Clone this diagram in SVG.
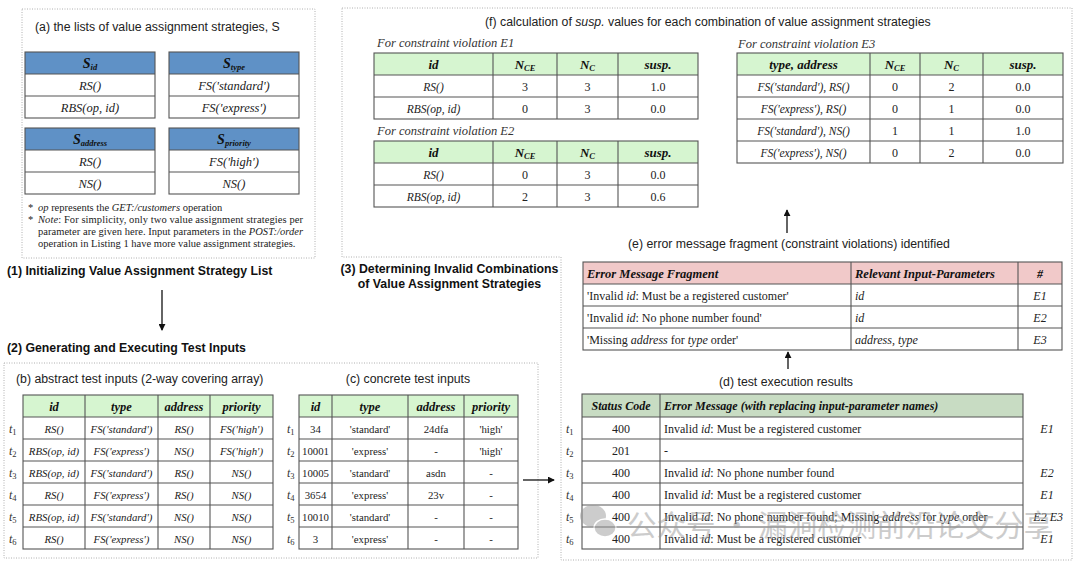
<svg xmlns="http://www.w3.org/2000/svg" width="1080" height="566" viewBox="0 0 1080 566">
<defs>
<style>
.bg{fill:#ffffff}
.dot{fill:none;stroke:#b0b0b0;stroke-width:1;stroke-dasharray:1 1.5}
.grid{fill:none;stroke:#555;stroke-width:1.1}
.title{font-family:"Liberation Sans",Arial,sans-serif;font-size:12.3px;fill:#222}
.head{font-family:"Liberation Sans",Arial,sans-serif;font-size:12.3px;font-weight:bold;fill:#111}
.th{font-family:"Liberation Serif","Times New Roman",serif;font-size:13px;font-weight:bold;font-style:italic;fill:#111;text-anchor:middle}
.thl{font-family:"Liberation Serif","Times New Roman",serif;font-size:12.5px;font-weight:bold;font-style:italic;fill:#111}
.sub{font-size:8.5px}
.ci{font-family:"Liberation Serif","Times New Roman",serif;font-size:11.5px;font-style:italic;fill:#222;text-anchor:middle}
.cn{font-family:"Liberation Serif","Times New Roman",serif;font-size:12px;fill:#222;text-anchor:middle}
.cs{font-family:"Liberation Serif","Times New Roman",serif;font-size:10.8px;fill:#222;text-anchor:middle}
.csi{font-family:"Liberation Serif","Times New Roman",serif;font-size:10.8px;font-style:italic;fill:#222;text-anchor:middle}
.ca{font-family:"Liberation Serif","Times New Roman",serif;font-size:12.5px;font-style:italic;fill:#222;text-anchor:middle}
.txt{font-family:"Liberation Serif","Times New Roman",serif;font-size:12px;fill:#222}
.lbl{font-family:"Liberation Serif","Times New Roman",serif;font-size:12.5px;font-style:italic;fill:#333}
.note{font-family:"Liberation Serif","Times New Roman",serif;font-size:10.5px;fill:#222}
.tl{font-family:"Liberation Serif","Times New Roman",serif;font-size:12px;font-style:italic;fill:#333}
.tls{font-size:8.5px;font-style:normal}
.it{font-style:italic}
.hblue{fill:#5f91c6}
.hgreen{fill:#d6f5d0}
.hpink{fill:#f1c9c9}
.hsage{fill:#c8dcc3}
.conn{stroke:#111;stroke-width:1.3;fill:none}
.wm{font-family:"Noto Sans CJK SC","Noto Sans",sans-serif;font-size:29.5px;fill:#9a9a9a}
</style>
<marker id="ah" viewBox="0 0 8 8" refX="7" refY="4" markerWidth="7" markerHeight="7" markerUnits="userSpaceOnUse" orient="auto">
<path d="M0,0 L8,4 L0,8 z" fill="#111"/>
</marker>
</defs>
<rect class="bg" x="0" y="0" width="1080" height="566"/>

<!-- panels -->
<g id="panels">
<rect class="dot" x="22" y="9" width="293" height="249"/>
<path class="dot" d="M342,8 H1072 V560 H561 V257 H342 Z"/>
<rect class="dot" x="4" y="363" width="534" height="195"/>
</g>

<!-- headings -->
<g id="headings">
<text class="head" x="7" y="275">(1) Initializing Value Assignment Strategy List</text>
<text class="head" x="7" y="352">(2) Generating and Executing Test Inputs</text>
<text class="head" x="449.5" y="273" text-anchor="middle">(3) Determining Invalid Combinations</text>
<text class="head" x="449.5" y="288" text-anchor="middle">of Value Assignment Strategies</text>
</g>

<!-- (a) -->
<g id="panel-a">
<text class="title" x="35" y="31">(a) the lists of value assignment strategies, S</text>
<g id="s-id">
<rect class="hblue" x="25" y="52" width="130" height="22"/>
<rect class="grid" x="25" y="52" width="130" height="66"/>
<line class="grid" x1="25" y1="74" x2="155" y2="74"/>
<line class="grid" x1="25" y1="96" x2="155" y2="96"/>
<text class="th" x="90" y="67.5" style="font-size:14px">S<tspan class="sub" dy="2">id</tspan></text>
<text class="ca" x="90" y="89.5">RS()</text>
<text class="ca" x="90" y="111.5">RBS(op, id)</text>
</g>
<g id="s-type">
<rect class="hblue" x="169" y="52" width="130" height="22"/>
<rect class="grid" x="169" y="52" width="130" height="66"/>
<line class="grid" x1="169" y1="74" x2="299" y2="74"/>
<line class="grid" x1="169" y1="96" x2="299" y2="96"/>
<text class="th" x="234" y="67.5" style="font-size:14px">S<tspan class="sub" dy="2">type</tspan></text>
<text class="ca" x="234" y="89.5">FS('standard')</text>
<text class="ca" x="234" y="111.5">FS('express')</text>
</g>
<g id="s-address">
<rect class="hblue" x="25" y="128" width="130" height="22"/>
<rect class="grid" x="25" y="128" width="130" height="66"/>
<line class="grid" x1="25" y1="150" x2="155" y2="150"/>
<line class="grid" x1="25" y1="172" x2="155" y2="172"/>
<text class="th" x="90" y="143.5" style="font-size:14px">S<tspan class="sub" dy="2">address</tspan></text>
<text class="ca" x="90" y="165.5">RS()</text>
<text class="ca" x="90" y="187.5">NS()</text>
</g>
<g id="s-priority">
<rect class="hblue" x="169" y="128" width="130" height="22"/>
<rect class="grid" x="169" y="128" width="130" height="66"/>
<line class="grid" x1="169" y1="150" x2="299" y2="150"/>
<line class="grid" x1="169" y1="172" x2="299" y2="172"/>
<text class="th" x="234" y="143.5" style="font-size:14px">S<tspan class="sub" dy="2">priority</tspan></text>
<text class="ca" x="234" y="165.5">FS('high')</text>
<text class="ca" x="234" y="187.5">NS()</text>
</g>
<g id="notes">
<text class="note" x="28" y="211">*</text>
<text class="note" x="38" y="211"><tspan class="it">op</tspan> represents the <tspan class="it">GET:/customers</tspan> operation</text>
<text class="note" x="28" y="223">*</text>
<text class="note" x="38" y="223" textLength="265" lengthAdjust="spacing"><tspan class="it">Note</tspan>: For simplicity, only two value assignment strategies per</text>
<text class="note" x="38" y="235" textLength="265" lengthAdjust="spacing">parameter are given here. Input parameters in the <tspan class="it">POST:/order</tspan></text>
<text class="note" x="38" y="247">operation in Listing 1 have more value assignment strategies.</text>
</g>
</g>

<!-- (f) -->
<g id="panel-f">
<text class="title" x="485" y="26">(f) calculation of <tspan class="it">susp.</tspan> values for each combination of value assignment strategies</text>
<g id="f-e1">
<text class="lbl" x="377" y="47">For constraint violation E1</text>
<rect class="hgreen" x="374" y="53" width="324" height="22"/>
<rect class="grid" x="374" y="53" width="324" height="66"/>
<line class="grid" x1="374" y1="75" x2="698" y2="75"/>
<line class="grid" x1="374" y1="97" x2="698" y2="97"/>
<line class="grid" x1="493" y1="53" x2="493" y2="119"/>
<line class="grid" x1="557" y1="53" x2="557" y2="119"/>
<line class="grid" x1="618" y1="53" x2="618" y2="119"/>
<text class="th" x="433.5" y="68.5">id</text>
<text class="th" x="525" y="68.5">N<tspan class="sub" dy="2">CE</tspan></text>
<text class="th" x="587.5" y="68.5">N<tspan class="sub" dy="2">C</tspan></text>
<text class="th" x="658" y="68.5">susp.</text>
<text class="ci" x="433.5" y="90.5">RS()</text>
<text class="cn" x="525" y="90.5">3</text>
<text class="cn" x="587.5" y="90.5">3</text>
<text class="cn" x="658" y="90.5">1.0</text>
<text class="ci" x="433.5" y="112.5">RBS(op, id)</text>
<text class="cn" x="525" y="112.5">0</text>
<text class="cn" x="587.5" y="112.5">3</text>
<text class="cn" x="658" y="112.5">0.0</text>
</g>
<g id="f-e2">
<text class="lbl" x="377" y="135">For constraint violation E2</text>
<rect class="hgreen" x="374" y="141" width="324" height="22"/>
<rect class="grid" x="374" y="141" width="324" height="66"/>
<line class="grid" x1="374" y1="163" x2="698" y2="163"/>
<line class="grid" x1="374" y1="185" x2="698" y2="185"/>
<line class="grid" x1="493" y1="141" x2="493" y2="207"/>
<line class="grid" x1="557" y1="141" x2="557" y2="207"/>
<line class="grid" x1="618" y1="141" x2="618" y2="207"/>
<text class="th" x="433.5" y="156.5">id</text>
<text class="th" x="525" y="156.5">N<tspan class="sub" dy="2">CE</tspan></text>
<text class="th" x="587.5" y="156.5">N<tspan class="sub" dy="2">C</tspan></text>
<text class="th" x="658" y="156.5">susp.</text>
<text class="ci" x="433.5" y="178.5">RS()</text>
<text class="cn" x="525" y="178.5">0</text>
<text class="cn" x="587.5" y="178.5">3</text>
<text class="cn" x="658" y="178.5">0.0</text>
<text class="ci" x="433.5" y="200.5">RBS(op, id)</text>
<text class="cn" x="525" y="200.5">2</text>
<text class="cn" x="587.5" y="200.5">3</text>
<text class="cn" x="658" y="200.5">0.6</text>
</g>
<g id="f-e3">
<text class="lbl" x="738" y="48">For constraint violation E3</text>
<rect class="hgreen" x="737" y="53" width="326" height="22"/>
<rect class="grid" x="737" y="53" width="326" height="110"/>
<line class="grid" x1="737" y1="75" x2="1063" y2="75"/>
<line class="grid" x1="737" y1="97" x2="1063" y2="97"/>
<line class="grid" x1="737" y1="119" x2="1063" y2="119"/>
<line class="grid" x1="737" y1="141" x2="1063" y2="141"/>
<line class="grid" x1="870" y1="53" x2="870" y2="163"/>
<line class="grid" x1="920" y1="53" x2="920" y2="163"/>
<line class="grid" x1="983" y1="53" x2="983" y2="163"/>
<text class="th" x="803.5" y="68.5">type, address</text>
<text class="th" x="895" y="68.5">N<tspan class="sub" dy="2">CE</tspan></text>
<text class="th" x="951.5" y="68.5">N<tspan class="sub" dy="2">C</tspan></text>
<text class="th" x="1023" y="68.5">susp.</text>
<text class="ci" x="803.5" y="90.5">FS('standard'), RS()</text>
<text class="cn" x="895" y="90.5">0</text>
<text class="cn" x="951.5" y="90.5">2</text>
<text class="cn" x="1023" y="90.5">0.0</text>
<text class="ci" x="803.5" y="112.5">FS('express'), RS()</text>
<text class="cn" x="895" y="112.5">0</text>
<text class="cn" x="951.5" y="112.5">1</text>
<text class="cn" x="1023" y="112.5">0.0</text>
<text class="ci" x="803.5" y="134.5">FS('standard'), NS()</text>
<text class="cn" x="895" y="134.5">1</text>
<text class="cn" x="951.5" y="134.5">1</text>
<text class="cn" x="1023" y="134.5">1.0</text>
<text class="ci" x="803.5" y="156.5">FS('express'), NS()</text>
<text class="cn" x="895" y="156.5">0</text>
<text class="cn" x="951.5" y="156.5">2</text>
<text class="cn" x="1023" y="156.5">0.0</text>
</g>
</g>

<!-- (e) -->
<g id="panel-e">
<text class="title" x="628" y="248">(e) error message fragment (constraint violations) identified</text>
<rect class="hpink" x="583" y="262" width="479" height="22"/>
<rect class="grid" x="583" y="262" width="479" height="88"/>
<line class="grid" x1="583" y1="284" x2="1062" y2="284"/>
<line class="grid" x1="583" y1="306" x2="1062" y2="306"/>
<line class="grid" x1="583" y1="328" x2="1062" y2="328"/>
<line class="grid" x1="851" y1="262" x2="851" y2="350"/>
<line class="grid" x1="1018" y1="262" x2="1018" y2="350"/>
<text class="thl" x="587" y="277.5">Error Message Fragment</text>
<text class="thl" x="855" y="277.5">Relevant Input-Parameters</text>
<text class="th" x="1040" y="277.5" style="font-size:12px">#</text>
<text class="txt" x="587" y="299.5">'Invalid <tspan class="it">id</tspan>: Must be a registered customer'</text>
<text class="txt" x="855" y="299.5"><tspan class="it">id</tspan></text>
<text class="ca" x="1040" y="299.5" style="font-size:12px">E1</text>
<text class="txt" x="587" y="321.5">'Invalid <tspan class="it">id</tspan>: No phone number found'</text>
<text class="txt" x="855" y="321.5"><tspan class="it">id</tspan></text>
<text class="ca" x="1040" y="321.5" style="font-size:12px">E2</text>
<text class="txt" x="587" y="343.5">'Missing <tspan class="it">address</tspan> for <tspan class="it">type</tspan> order'</text>
<text class="txt" x="855" y="343.5"><tspan class="it">address, type</tspan></text>
<text class="ca" x="1040" y="343.5" style="font-size:12px">E3</text>
</g>

<!-- (d) -->
<g id="panel-d">
<text class="title" x="786" y="386" text-anchor="middle">(d) test execution results</text>
<rect class="hsage" x="582" y="394" width="441" height="23"/>
<rect class="grid" x="582" y="394" width="441" height="155"/>
<line class="grid" x1="582" y1="417" x2="1023" y2="417"/>
<line class="grid" x1="582" y1="439" x2="1023" y2="439"/>
<line class="grid" x1="582" y1="461" x2="1023" y2="461"/>
<line class="grid" x1="582" y1="483" x2="1023" y2="483"/>
<line class="grid" x1="582" y1="505" x2="1023" y2="505"/>
<line class="grid" x1="582" y1="527" x2="1023" y2="527"/>
<line class="grid" x1="660" y1="394" x2="660" y2="549"/>
<text class="th" x="621" y="410" style="font-size:12px">Status Code</text>
<text class="thl" x="664" y="410" style="font-size:12px">Error Message (with replacing input-parameter names)</text>
<text class="tl" x="566" y="432.5">t<tspan class="tls" dy="2.5">1</tspan></text>
<text class="tl" x="566" y="454.5">t<tspan class="tls" dy="2.5">2</tspan></text>
<text class="tl" x="566" y="476.5">t<tspan class="tls" dy="2.5">3</tspan></text>
<text class="tl" x="566" y="498.5">t<tspan class="tls" dy="2.5">4</tspan></text>
<text class="tl" x="566" y="520.5">t<tspan class="tls" dy="2.5">5</tspan></text>
<text class="tl" x="566" y="542.5">t<tspan class="tls" dy="2.5">6</tspan></text>
<text class="cn" x="621" y="432.5">400</text>
<text class="cn" x="621" y="454.5">201</text>
<text class="cn" x="621" y="476.5">400</text>
<text class="cn" x="621" y="498.5">400</text>
<text class="cn" x="621" y="520.5">400</text>
<text class="cn" x="621" y="542.5">400</text>
<text class="txt" x="664" y="432.5">Invalid <tspan class="it">id</tspan>: Must be a registered customer</text>
<text class="txt" x="664" y="454.5">-</text>
<text class="txt" x="664" y="476.5">Invalid <tspan class="it">id</tspan>: No phone number found</text>
<text class="txt" x="664" y="498.5">Invalid <tspan class="it">id</tspan>: Must be a registered customer</text>
<text class="txt" x="664" y="520.5">Invalid <tspan class="it">id</tspan>: No phone number found; Missing <tspan class="it">address</tspan> for <tspan class="it">type</tspan> order</text>
<text class="txt" x="664" y="542.5">Invalid <tspan class="it">id</tspan>: Must be a registered customer</text>
<text class="ca" x="1047" y="432.5" style="font-size:12px">E1</text>
<text class="ca" x="1047" y="476.5" style="font-size:12px">E2</text>
<text class="ca" x="1047" y="498.5" style="font-size:12px">E1</text>
<text class="ca" x="1063" y="520.5" style="font-size:12px;text-anchor:end">E2 E3</text>
<text class="ca" x="1047" y="542.5" style="font-size:12px">E1</text>
</g>

<!-- (b) -->
<g id="panel-b">
<text class="title" x="16" y="383">(b) abstract test inputs (2-way covering array)</text>
<rect class="hgreen" x="23" y="395" width="250" height="22"/>
<rect class="grid" x="23" y="395" width="250" height="154"/>
<line class="grid" x1="23" y1="417" x2="273" y2="417"/>
<line class="grid" x1="23" y1="439" x2="273" y2="439"/>
<line class="grid" x1="23" y1="461" x2="273" y2="461"/>
<line class="grid" x1="23" y1="483" x2="273" y2="483"/>
<line class="grid" x1="23" y1="505" x2="273" y2="505"/>
<line class="grid" x1="23" y1="527" x2="273" y2="527"/>
<line class="grid" x1="85" y1="395" x2="85" y2="549"/>
<line class="grid" x1="158" y1="395" x2="158" y2="549"/>
<line class="grid" x1="210" y1="395" x2="210" y2="549"/>
<text class="th" x="54" y="410.5" style="font-size:12.5px">id</text>
<text class="th" x="121.5" y="410.5" style="font-size:12.5px">type</text>
<text class="th" x="184" y="410.5" style="font-size:12.5px">address</text>
<text class="th" x="241.5" y="410.5" style="font-size:12.5px">priority</text>
<text class="tl" x="9" y="432.5">t<tspan class="tls" dy="2.5">1</tspan></text>
<text class="tl" x="9" y="454.5">t<tspan class="tls" dy="2.5">2</tspan></text>
<text class="tl" x="9" y="476.5">t<tspan class="tls" dy="2.5">3</tspan></text>
<text class="tl" x="9" y="498.5">t<tspan class="tls" dy="2.5">4</tspan></text>
<text class="tl" x="9" y="520.5">t<tspan class="tls" dy="2.5">5</tspan></text>
<text class="tl" x="9" y="542.5">t<tspan class="tls" dy="2.5">6</tspan></text>
<text class="csi" x="54" y="432.5">RS()</text>
<text class="csi" x="121.5" y="432.5">FS('standard')</text>
<text class="csi" x="184" y="432.5">RS()</text>
<text class="csi" x="241.5" y="432.5">FS('high')</text>
<text class="csi" x="54" y="454.5">RBS(op, id)</text>
<text class="csi" x="121.5" y="454.5">FS('express')</text>
<text class="csi" x="184" y="454.5">NS()</text>
<text class="csi" x="241.5" y="454.5">FS('high')</text>
<text class="csi" x="54" y="476.5">RBS(op, id)</text>
<text class="csi" x="121.5" y="476.5">FS('standard')</text>
<text class="csi" x="184" y="476.5">RS()</text>
<text class="csi" x="241.5" y="476.5">NS()</text>
<text class="csi" x="54" y="498.5">RS()</text>
<text class="csi" x="121.5" y="498.5">FS('express')</text>
<text class="csi" x="184" y="498.5">RS()</text>
<text class="csi" x="241.5" y="498.5">NS()</text>
<text class="csi" x="54" y="520.5">RBS(op, id)</text>
<text class="csi" x="121.5" y="520.5">FS('standard')</text>
<text class="csi" x="184" y="520.5">NS()</text>
<text class="csi" x="241.5" y="520.5">NS()</text>
<text class="csi" x="54" y="542.5">RS()</text>
<text class="csi" x="121.5" y="542.5">FS('express')</text>
<text class="csi" x="184" y="542.5">NS()</text>
<text class="csi" x="241.5" y="542.5">NS()</text>
</g>

<!-- (c) -->
<g id="panel-c">
<text class="title" x="408" y="383" text-anchor="middle">(c) concrete test inputs</text>
<rect class="hgreen" x="299" y="395" width="219" height="22"/>
<rect class="grid" x="299" y="395" width="219" height="154"/>
<line class="grid" x1="299" y1="417" x2="518" y2="417"/>
<line class="grid" x1="299" y1="439" x2="518" y2="439"/>
<line class="grid" x1="299" y1="461" x2="518" y2="461"/>
<line class="grid" x1="299" y1="483" x2="518" y2="483"/>
<line class="grid" x1="299" y1="505" x2="518" y2="505"/>
<line class="grid" x1="299" y1="527" x2="518" y2="527"/>
<line class="grid" x1="332" y1="395" x2="332" y2="549"/>
<line class="grid" x1="408" y1="395" x2="408" y2="549"/>
<line class="grid" x1="464" y1="395" x2="464" y2="549"/>
<text class="th" x="315.5" y="410.5" style="font-size:12.5px">id</text>
<text class="th" x="370" y="410.5" style="font-size:12.5px">type</text>
<text class="th" x="436" y="410.5" style="font-size:12.5px">address</text>
<text class="th" x="491" y="410.5" style="font-size:12.5px">priority</text>
<text class="tl" x="287" y="432.5">t<tspan class="tls" dy="2.5">1</tspan></text>
<text class="tl" x="287" y="454.5">t<tspan class="tls" dy="2.5">2</tspan></text>
<text class="tl" x="287" y="476.5">t<tspan class="tls" dy="2.5">3</tspan></text>
<text class="tl" x="287" y="498.5">t<tspan class="tls" dy="2.5">4</tspan></text>
<text class="tl" x="287" y="520.5">t<tspan class="tls" dy="2.5">5</tspan></text>
<text class="tl" x="287" y="542.5">t<tspan class="tls" dy="2.5">6</tspan></text>
<text class="cs" x="315.5" y="432.5">34</text>
<text class="cs" x="370" y="432.5">'standard'</text>
<text class="cs" x="436" y="432.5">24dfa</text>
<text class="cs" x="491" y="432.5">'high'</text>
<text class="cs" x="315.5" y="454.5">10001</text>
<text class="cs" x="370" y="454.5">'express'</text>
<text class="cs" x="436" y="454.5">-</text>
<text class="cs" x="491" y="454.5">'high'</text>
<text class="cs" x="315.5" y="476.5">10005</text>
<text class="cs" x="370" y="476.5">'standard'</text>
<text class="cs" x="436" y="476.5">asdn</text>
<text class="cs" x="491" y="476.5">-</text>
<text class="cs" x="315.5" y="498.5">3654</text>
<text class="cs" x="370" y="498.5">'express'</text>
<text class="cs" x="436" y="498.5">23v</text>
<text class="cs" x="491" y="498.5">-</text>
<text class="cs" x="315.5" y="520.5">10010</text>
<text class="cs" x="370" y="520.5">'standard'</text>
<text class="cs" x="436" y="520.5">-</text>
<text class="cs" x="491" y="520.5">-</text>
<text class="cs" x="315.5" y="542.5">3</text>
<text class="cs" x="370" y="542.5">'express'</text>
<text class="cs" x="436" y="542.5">-</text>
<text class="cs" x="491" y="542.5">-</text>
</g>

<!-- connectors -->
<g id="connectors">
<line class="conn" x1="162" y1="290" x2="162" y2="330" marker-end="url(#ah)"/>
<line class="conn" x1="523" y1="480" x2="554" y2="480" marker-end="url(#ah)"/>
<line class="conn" x1="788" y1="369" x2="788" y2="352" marker-end="url(#ah)"/>
<line class="conn" x1="787" y1="233" x2="787" y2="210" marker-end="url(#ah)"/>
</g>

<!-- watermark -->
<g id="watermark" opacity="0.5">
<ellipse cx="593" cy="516" rx="13" ry="11" fill="#9a9a9a"/>
<ellipse cx="605" cy="528" rx="11" ry="9" fill="#9a9a9a" stroke="#fff" stroke-width="1.5"/>
<text class="wm" x="627" y="536">公众号 · 漏洞检测前沿论文分享</text>
</g>
</svg>
